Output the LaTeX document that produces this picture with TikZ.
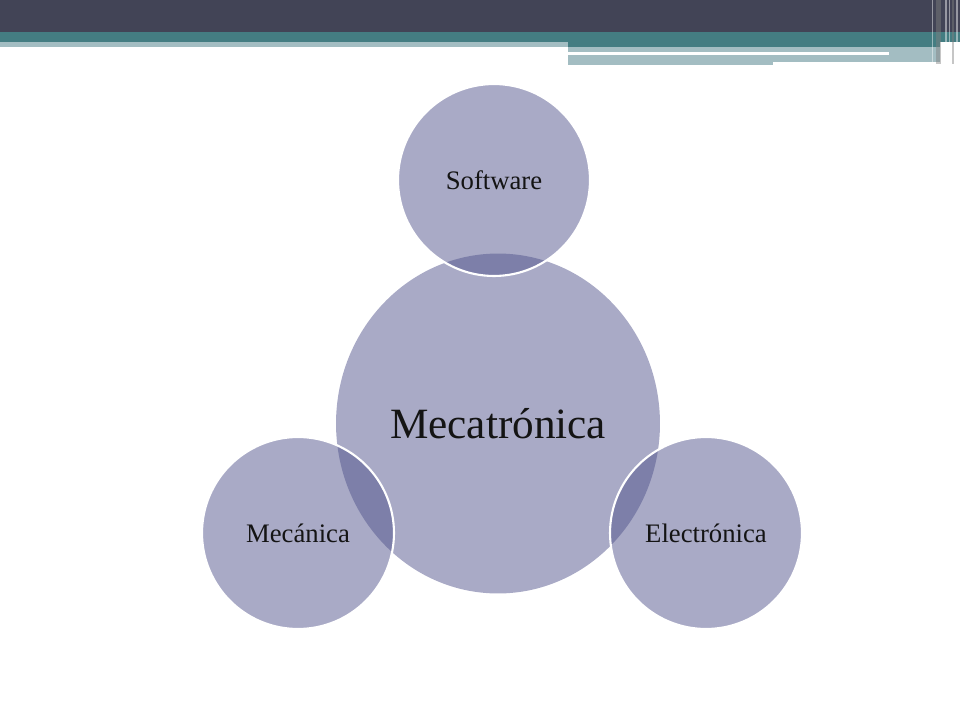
\documentclass[tikz,border=0pt]{standalone}
\usepackage{fontspec}
\setmainfont{Liberation Serif}
\usetikzlibrary{shapes.geometric}

\definecolor{barDark}{HTML}{424456}
\definecolor{barTeal}{HTML}{447D82}
\definecolor{barLight}{HTML}{A3BDC2}
\definecolor{bigFill}{HTML}{A9AAC6}
\definecolor{smallFill}{RGB}{83,85,141}
\definecolor{labelInk}{HTML}{141414}

\begin{document}
\begin{tikzpicture}[x=0.02cm,y=-0.02cm,
    big/.style={ellipse, minimum width=6.48cm, minimum height=6.8cm, inner sep=0pt,
        fill=bigFill, text=labelInk, font=\fontsize{24.6}{29}\selectfont},
    small/.style={circle, minimum size=3.84cm, inner sep=0pt,
        fill=smallFill, fill opacity=0.5, text opacity=1, text=labelInk,
        draw=white, line width=1.2pt, font=\fontsize{15.2}{18}\selectfont}]
    \useasboundingbox (0,0) rectangle (960,720);

    % header bar
    \fill[barDark] (0,0) rectangle (960,32);
    \fill[barTeal] (0,32) rectangle (960,42);
    \fill[barLight] (0,42) rectangle (568,47);
    \fill[barTeal] (568,42) rectangle (940,47);
    \fill[barLight] (568,47) rectangle (940,62);
    \fill[barLight] (568,62) rectangle (773,65);
    \fill[white] (568,52) rectangle (889,55);
    \foreach \x/\w/\c in {932/1/white, 936/5/gray, 945/1.5/white, 949/1/white, 952/2/gray, 956/1.5/white}
        \fill[\c, opacity=0.45] (\x,0) rectangle ++(\w,64);

    % circles
    \node[big] (meca) at (498,423.5) {Mecatrónica};
    \node[small] (soft) at (494,180) {Software};
    \node[small] (mech) at (298,533) {Mecánica};
    \node[small] (elec) at (706,533) {Electrónica};
\end{tikzpicture}
\end{document}
